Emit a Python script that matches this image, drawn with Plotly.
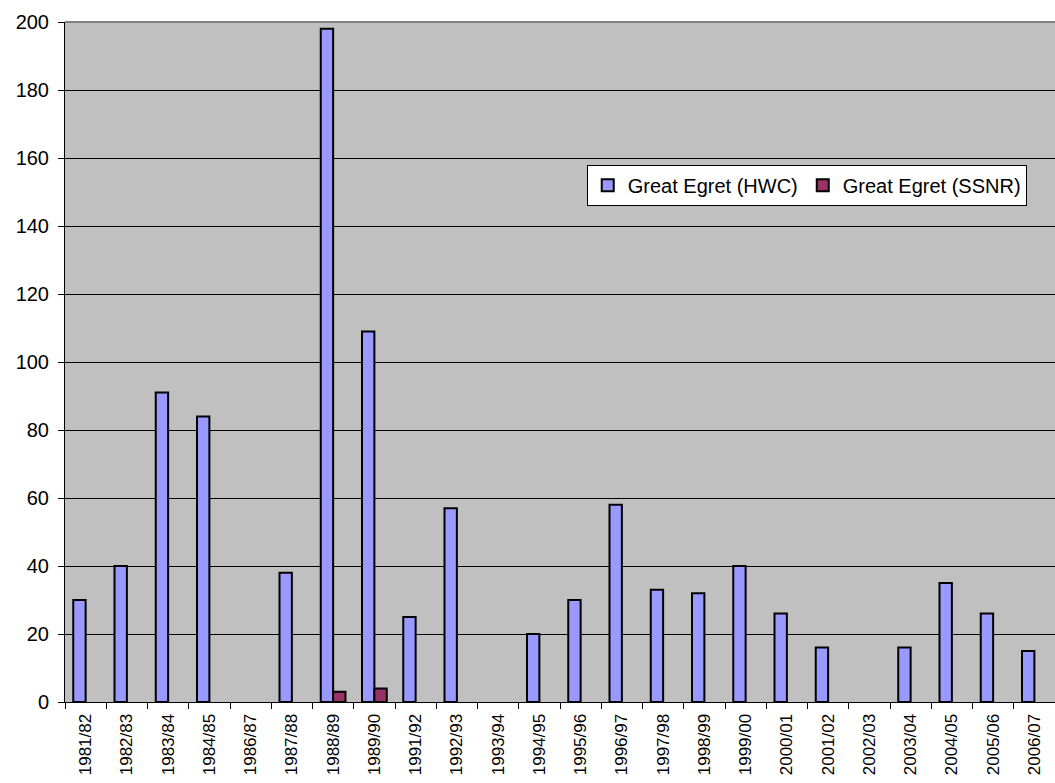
import plotly.graph_objects as go

seasons = ["1981/82", "1982/83", "1983/84", "1984/85", "1986/87", "1987/88", "1988/89",
           "1989/90", "1991/92", "1992/93", "1993/94", "1994/95", "1995/96", "1996/97",
           "1997/98", "1998/99", "1999/00", "2000/01", "2001/02", "2002/03", "2003/04",
           "2004/05", "2005/06", "2006/07"]
hwc = [30, 40, 91, 84, None, 38, 198, 109, 25, 57, None, 20, 30, 58, 33, 32, 40, 26, 16, None, 16, 35, 26, 15]
ssnr = [None, None, None, None, None, None, 3, 4, None, None, None, None, None, None, None, None,
        None, None, None, None, None, None, None, None]

FONT = "Liberation Sans, Arial, sans-serif"

fig = go.Figure()
fig.add_trace(go.Bar(x=seasons, y=hwc, name="Great Egret (HWC)",
                     marker=dict(color="#9999FF", line=dict(color="black", width=2))))
fig.add_trace(go.Bar(x=seasons, y=ssnr, name="Great Egret (SSNR)",
                     marker=dict(color="#993366", line=dict(color="black", width=2))))

fig.update_layout(
    width=1055, height=783,
    margin=dict(l=65, r=0, t=22, b=81, autoexpand=False),
    paper_bgcolor="white", plot_bgcolor="#C0C0C0",
    barmode="group", bargap=0.4, bargroupgap=0,
    font=dict(family=FONT, color="black"),
    showlegend=True,
    legend=dict(orientation="h", x=0.527, y=0.79, xanchor="left", yanchor="top",
                bgcolor="white", bordercolor="black", borderwidth=1,
                font=dict(size=20, family=FONT), itemwidth=30, tracegroupgap=0),
    xaxis=dict(type="category", tickangle=-90, tickfont=dict(size=17),
               ticks="outside", ticklen=6, tickcolor="black", tickson="boundaries",
               ticklabelstandoff=4, automargin=False,
               showline=True, linecolor="black", linewidth=1, showgrid=False,
               range=[-0.5, len(seasons) - 0.5]),
    yaxis=dict(range=[0, 200], dtick=20, tickfont=dict(size=20), automargin=False,
               ticks="outside", ticklen=6, tickcolor="black", ticklabelstandoff=5,
               showline=True, linecolor="black", linewidth=1,
               showgrid=True, gridcolor="black", gridwidth=1, zeroline=False),
)
fig.add_shape(type="line", xref="paper", yref="paper", x0=0, x1=1, y0=1, y1=1,
              line=dict(color="#808080", width=2))

fig.write_html("out.html", config={"displayModeBar": False},
               post_script="document.body.style.margin='0';document.body.style.overflow='hidden';")
